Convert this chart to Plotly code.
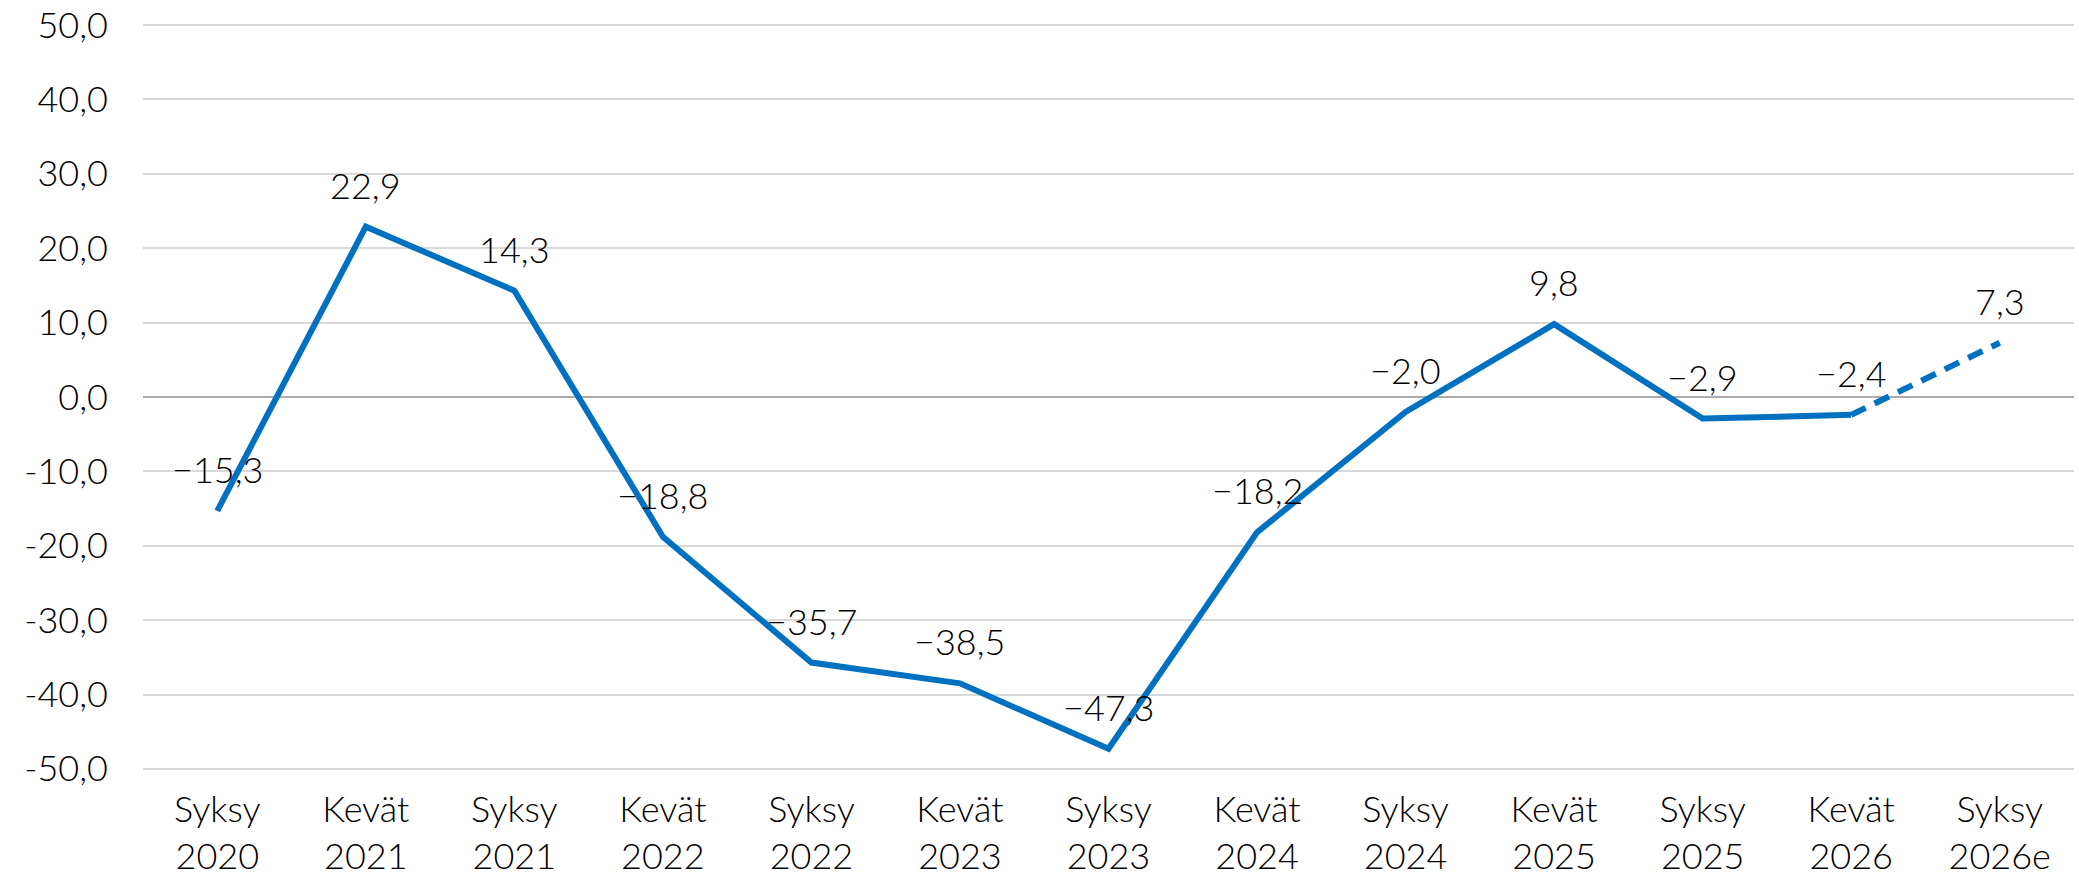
import plotly.graph_objects as go

categories = ["Syksy<br>2020", "Kevät<br>2021", "Syksy<br>2021", "Kevät<br>2022", "Syksy<br>2022",
              "Kevät<br>2023", "Syksy<br>2023", "Kevät<br>2024", "Syksy<br>2024", "Kevät<br>2025",
              "Syksy<br>2025", "Kevät<br>2026", "Syksy<br>2026e"]
values = [-15.3, 22.9, 14.3, -18.8, -35.7, -38.5, -47.3, -18.2, -2.0, 9.8, -2.9, -2.4, 7.3]
n_actual = 12  # first 12 are actual, last is estimate

y_ticks = [-50, -40, -30, -20, -10, 0, 10, 20, 30, 40, 50]
y_tick_text = [f"{v:.1f}".replace(".", ",") for v in y_ticks]

def fmt(v):
    s = f"{abs(v):.1f}".replace(".", ",")
    return ("\u2212" + s) if v < 0 else s

FONT = "Lato"
BLUE = "#0070C0"
x_idx = list(range(len(categories)))

fig = go.Figure()
fig.add_trace(go.Scatter(
    x=x_idx[:n_actual], y=values[:n_actual], mode="lines",
    line=dict(color=BLUE, width=6), hoverinfo="skip", showlegend=False))
fig.add_trace(go.Scatter(
    x=x_idx[n_actual - 1:], y=values[n_actual - 1:], mode="lines",
    line=dict(color=BLUE, width=6, dash="16px,10px"), hoverinfo="skip", showlegend=False))

for xi, v in zip(x_idx, values):
    fig.add_annotation(x=xi, y=v, text=fmt(v), showarrow=False, xanchor="center",
                       yanchor="middle", yshift=42,
                       font=dict(family=FONT, size=36, color="#000000", weight=300))

fig.update_layout(
    width=2079, height=876,
    margin=dict(l=143, r=5, t=24, b=106),
    paper_bgcolor="white", plot_bgcolor="white",
    font=dict(family=FONT, size=36, color="#000000", weight=300),
    xaxis=dict(range=[-0.5, len(categories) - 0.5], tickmode="array", tickvals=x_idx,
               ticktext=categories, showgrid=False, zeroline=False, showline=False,
               ticks="", tickfont=dict(size=36, weight=300), ticklabelstandoff=15,
               automargin=False),
    yaxis=dict(range=[-50.15, 50.15], tickmode="array", tickvals=y_ticks, ticktext=y_tick_text,
               showgrid=True, gridcolor="#D9D9D9", gridwidth=2,
               zeroline=True, zerolinecolor="#ABABAB", zerolinewidth=2,
               showline=False, ticks="", tickfont=dict(size=36, weight=300),
               ticklabelstandoff=34, automargin=False),
)
fig.write_html("out.html", config={"displayModeBar": False},
               post_script="document.body.style.margin='0';document.body.style.overflow='hidden';")
